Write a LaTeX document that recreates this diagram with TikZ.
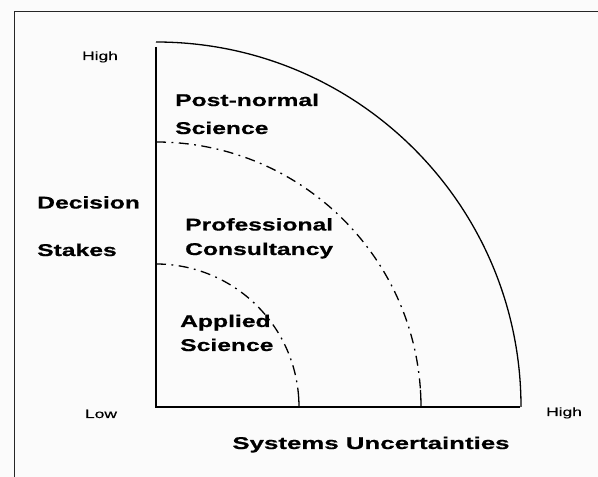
\documentclass[tikz,border=0pt]{standalone}
\usepackage{fontspec}
\newfontfamily\lblfont[FakeStretch=1.45,FakeBold=0.4]{Liberation Sans}
\newfontfamily\lblheavy[FakeStretch=1.45,FakeBold=0.7]{Liberation Sans Bold}
\newfontfamily\lblheavyx[FakeStretch=1.52,FakeBold=0.7]{Liberation Sans Bold}
\begin{document}
\begin{tikzpicture}[x=1pt,y=1pt,
  bigtxt/.style={font=\lblheavy\fontsize{17}{20}\selectfont, inner sep=0pt},
  smalltxt/.style={font=\lblfont\fontsize{12}{14}\selectfont, inner sep=0pt},
  axisline/.style={line width=2.8pt, line join=miter},
  arcline/.style={line width=1.3pt},
  dashdot/.style={line width=1.3pt, dash pattern=on 10pt off 5.5pt on 1.8pt off 5.5pt}]
\useasboundingbox (0,0) rectangle (598,477);
\fill[gray!3] (0,0) rectangle (598,477);
% frame
\draw[line width=0.9pt, black!85] (14,0) -- (14,466) -- (598,466);
% origin
\coordinate (O) at (156,70);
\coordinate (ytop) at (156,430);
\coordinate (xend) at (520,70);
% outer arc
\draw[arcline] (156,435) arc[start angle=90, end angle=0, radius=365];
% middle arc
\draw[dashdot] (156,335) arc[start angle=90, end angle=3.7, radius=265];
\draw[arcline] (O) ++(3.7:265) arc[start angle=3.7, end angle=0, radius=265];
% inner arc
\draw[dashdot] (156,213) arc[start angle=90, end angle=6.8, radius=143];
\draw[arcline] (O) ++(6.8:143) arc[start angle=6.8, end angle=0, radius=143];
% axes
\draw[axisline] (ytop) -- (O) -- (xend);
% labels
\node[smalltxt, anchor=base] (yhigh) at (100,417) {High};
\node[smalltxt, anchor=base] (xlow) at (101,59) {Low};
\node[smalltxt, anchor=base] (xhigh) at (564,61) {High};
\node[bigtxt, font=\lblheavyx\fontsize{17}{20}\selectfont, anchor=base] (xlabel) at (371,28) {Systems Uncertainties};
\node[bigtxt, anchor=base west] (ylabel1) at (37,268.5) {Decision};
\node[bigtxt, anchor=base west] (ylabel2) at (37,221) {Stakes};
\node[bigtxt, anchor=base west] (pn1) at (175,371) {Post-normal};
\node[bigtxt, anchor=base west] (pn2) at (175,343) {Science};
\node[bigtxt, anchor=base west] (pc1) at (185,246.5) {Professional};
\node[bigtxt, anchor=base west] (pc2) at (185,222) {Consultancy};
\node[bigtxt, anchor=base west] (as1) at (180,150) {Applied};
\node[bigtxt, anchor=base west] (as2) at (180,126) {Science};
\end{tikzpicture}
\end{document}
